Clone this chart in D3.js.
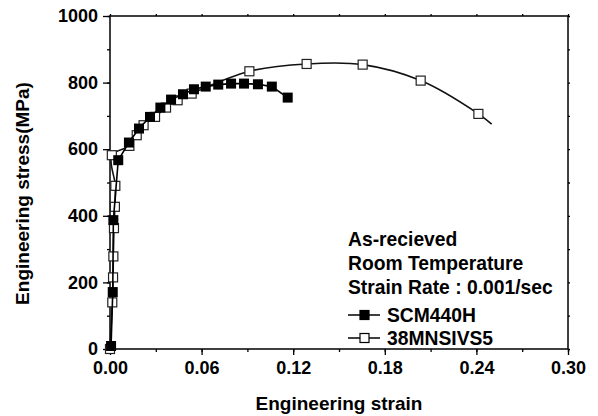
<!DOCTYPE html>
<html>
<head>
<meta charset="utf-8">
<script src="https://cdn.jsdelivr.net/npm/d3@7"></script>
<style>
  body { margin: 0; background: #fff; }
  svg { display: block; font-family: Arial, "Liberation Sans", sans-serif; font-weight: bold; }
</style>
</head>
<body>
<div id="chart"></div>
<script>
// values
const scmStrain = [0.0000, 0.0007, 0.0018, 0.0022, 0.0054, 0.0124, 0.0190, 0.0262, 0.0330, 0.0400, 0.0478, 0.0550, 0.0627, 0.0709, 0.0793, 0.0878, 0.0969, 0.1060, 0.1164];
const scmStress = [0, 9, 171, 387, 567, 620, 662, 697, 725, 749, 765, 780, 788, 794, 797, 797, 795, 788, 755];

const mnsStrain = [0.0000, 0.0015, 0.0020, 0.0022, 0.0026, 0.0032, 0.0035, 0.0012, 0.0127, 0.0175, 0.0220, 0.0295, 0.0367, 0.0443, 0.0535, 0.0913, 0.1288, 0.1655, 0.2035, 0.2413];
const mnsStress = [0, 140, 215, 278, 363, 427, 490, 582, 610, 642, 672, 697, 725, 747, 767, 834, 856, 854, 806, 706];
// the 38MNSIVS5 curve runs a bit past its last marker
const mnsLineEnd = [0.250, 675];

const xTicks = [0.00, 0.06, 0.12, 0.18, 0.24, 0.30];
const yTicks = [0, 200, 400, 600, 800, 1000];
const legendNotes = ['As-recieved', 'Room Temperature', 'Strain Rate : 0.001/sec'];
const seriesNames = ['SCM440H', '38MNSIVS5'];

const width = 598, height = 416;
const mLeft = 110, mRight = 568, mTop = 16, mBottom = 349;

const svg = d3.select('#chart').append('svg')
    .attr('width', width)
    .attr('height', height);

svg.append('rect').attr('width', width).attr('height', height).attr('fill', '#fff');

const x = d3.scaleLinear().domain([0, 0.30]).range([mLeft, mRight]);
const y = d3.scaleLinear().domain([0, 1000]).range([mBottom, mTop]);

// minor ticks halfway between majors
const xMinor = d3.range(0, 0.301, 0.03);
const yMinor = d3.range(0, 1001, 100);

function styleAxis(g) {
    g.select('.domain').remove();
    g.selectAll('line').attr('stroke', '#000').attr('stroke-width', 1.3);
}

// minor ticks first, no labels
svg.append('g').attr('transform', `translate(0,${mBottom})`)
    .call(d3.axisBottom(x).tickValues(xMinor).tickSize(3).tickFormat(''))
    .call(styleAxis);
svg.append('g').attr('transform', `translate(${mLeft},0)`)
    .call(d3.axisLeft(y).tickValues(yMinor).tickSize(3).tickFormat(''))
    .call(styleAxis);
svg.append('g').attr('transform', `translate(0,${mTop})`)
    .call(d3.axisTop(x).tickValues(xMinor).tickSize(2).tickFormat(''))
    .call(styleAxis);
svg.append('g').attr('transform', `translate(${mRight},0)`)
    .call(d3.axisRight(y).tickValues(yMinor).tickSize(2).tickFormat(''))
    .call(styleAxis);

const xAxis = svg.append('g').attr('transform', `translate(0,${mBottom})`)
    .call(d3.axisBottom(x).tickValues(xTicks).tickSize(6).tickPadding(6).tickFormat(d3.format('.2f')))
    .call(styleAxis);
const yAxis = svg.append('g').attr('transform', `translate(${mLeft},0)`)
    .call(d3.axisLeft(y).tickValues(yTicks).tickSize(7).tickPadding(5).tickFormat(d3.format('d')))
    .call(styleAxis);

[xAxis, yAxis].forEach(a => a.selectAll('text')
    .attr('font-family', 'Arial, "Liberation Sans", sans-serif')
    .attr('font-weight', 'bold')
    .attr('font-size', 18)
    .attr('fill', '#000'));

// frame
svg.append('rect')
    .attr('x', mLeft).attr('y', mTop)
    .attr('width', mRight - mLeft).attr('height', mBottom - mTop)
    .attr('fill', 'none').attr('stroke', '#000').attr('stroke-width', 1.5);

// axis titles
svg.append('text')
    .attr('x', (mLeft + mRight) / 2).attr('y', 410)
    .attr('text-anchor', 'middle').attr('font-size', 19)
    .text('Engineering strain');
svg.append('text')
    .attr('transform', `translate(29,${(mTop + mBottom) / 2 + 11}) rotate(-90)`)
    .attr('text-anchor', 'middle').attr('font-size', 19)
    .text('Engineering stress(MPa)');

// 38MNSIVS5 (open squares), drawn first so the filled ones sit on top
const mnsPts = mnsStrain.map((s, i) => [s, mnsStress[i]]);
const mnsLine = d3.line().x(d => x(d[0])).y(d => y(d[1])).curve(d3.curveCatmullRom.alpha(0.5));
svg.append('path')
    .datum(mnsPts.concat([mnsLineEnd]))
    .attr('d', mnsLine)
    .attr('fill', 'none').attr('stroke', '#111').attr('stroke-width', 1.6);

const box = 9;
svg.append('g').selectAll('rect')
    .data(mnsPts)
    .enter().append('rect')
        .attr('x', d => x(d[0]) - box / 2)
        .attr('y', d => y(d[1]) - box / 2)
        .attr('width', box).attr('height', box)
        .attr('fill', '#fff').attr('stroke', '#222').attr('stroke-width', 1.2);

// SCM440H (filled squares)
const scmPts = scmStrain.map((s, i) => [s, scmStress[i]]);
svg.append('path')
    .datum(scmPts)
    .attr('d', d3.line().x(d => x(d[0])).y(d => y(d[1])))
    .attr('fill', 'none').attr('stroke', '#000').attr('stroke-width', 1.6);

const fbox = 10;
svg.append('g').selectAll('rect')
    .data(scmPts.slice(1))
    .enter().append('rect')
        .attr('x', d => x(d[0]) - fbox / 2)
        .attr('y', d => y(d[1]) - fbox / 2)
        .attr('width', fbox).attr('height', fbox)
        .attr('fill', '#000');

// legend
const legX = 348;
svg.append('g').selectAll('text')
    .data(legendNotes)
    .enter().append('text')
        .attr('x', legX)
        .attr('y', (d, i) => 246 + i * 24)
        .attr('font-size', 19.3)
        .text(d => d);

const legItems = svg.append('g').selectAll('g')
    .data(seriesNames)
    .enter().append('g')
        .attr('transform', (d, i) => `translate(0,${315 + i * 23})`);
legItems.append('line')
    .attr('x1', legX).attr('x2', legX + 32)
    .attr('stroke', '#000').attr('stroke-width', 1.5);
legItems.append('rect')
    .attr('x', legX + 12).attr('y', -4.5)
    .attr('width', 9).attr('height', 9)
    .attr('fill', (d, i) => i === 0 ? '#000' : '#fff')
    .attr('stroke', '#000').attr('stroke-width', 1.2);
legItems.append('text')
    .attr('x', legX + 39).attr('y', 6.5)
    .attr('font-size', 19.3)
    .text(d => d);
</script>
</body>
</html>
